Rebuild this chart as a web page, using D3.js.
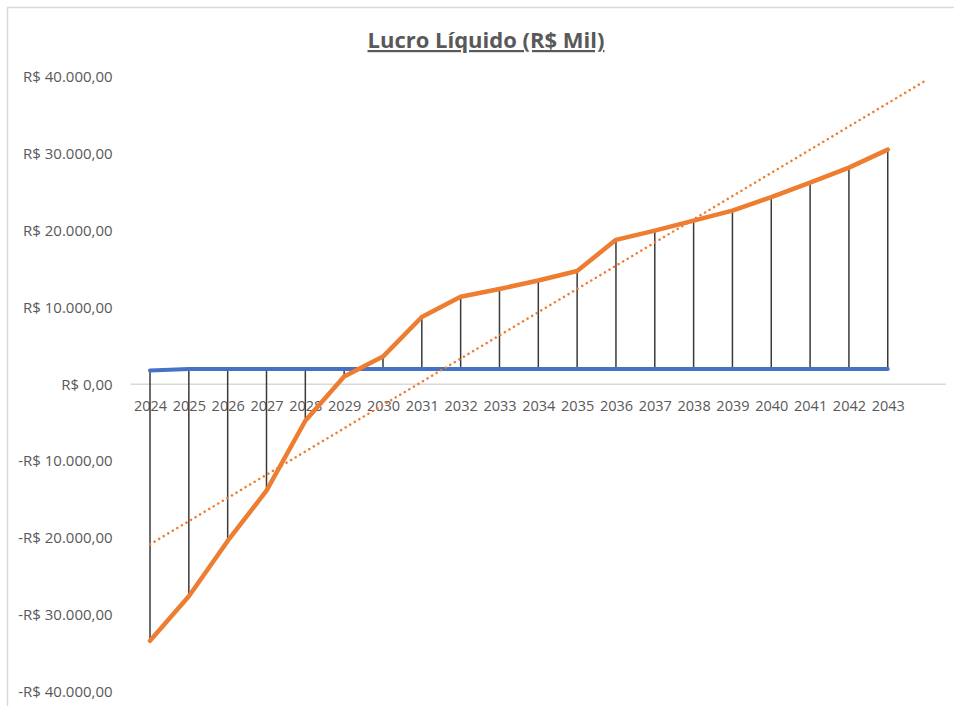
<!DOCTYPE html>
<html>
<head>
<meta charset="utf-8">
<script src="https://cdn.jsdelivr.net/npm/d3@7"></script>
<style>
  body { margin: 0; background: #fff; }
  svg { display: block; }
</style>
</head>
<body>
<div id="chart"></div>
<script>
// Lucro líquido por ano (R$ mil)
const years = ["2024","2025","2026","2027","2028","2029","2030","2031","2032","2033",
               "2034","2035","2036","2037","2038","2039","2040","2041","2042","2043"];
const lucro = [-33400,-27600,-20400,-13850,-4750,1000,3600,8750,11400,12400,
               13500,14750,18800,20000,21300,22600,24350,26250,28200,30550];
const base = [1800,2000,2000,2000,2000,2000,2000,2000,2000,2000,
              2000,2000,2000,2000,2000,2000,2000,2000,2000,2000];
const yTicks = [-40000,-30000,-20000,-10000,0,10000,20000,30000,40000];

const width = 954, height = 706;
const plotLeft = 130.6, plotRight = 946;
const yTop = 77, yBottom = 691.5;

const svg = d3.create("svg")
  .attr("width", width)
  .attr("height", height)
  .attr("viewBox", [0, 0, width, height]);

// chart border (runs off the right and bottom)
svg.append("rect")
  .attr("x", 7.5).attr("y", 7.5)
  .attr("width", 1000).attr("height", 1000)
  .attr("fill", "none")
  .attr("stroke", "#d9d9d9")
  .attr("stroke-width", 1.5);

// one extra slot at the end for the forward trendline period
const slots = years.concat([""]);
const x = d3.scalePoint(slots, [plotLeft, plotRight]).padding(0.5);
const y = d3.scaleLinear([-40000, 40000], [yBottom, yTop]);

const locale = d3.formatLocale({
  decimal: ",", thousands: ".", grouping: [3], currency: ["R$ ", ""], minus: "-"
});
const fmt = locale.format("$,.2f");

// title
svg.append("text")
  .attr("x", 486)
  .attr("y", 48)
  .attr("text-anchor", "middle")
  .attr("font-family", "'Open Sans', sans-serif")
  .attr("font-size", 22)
  .attr("font-weight", "bold")
  .attr("fill", "#595959")
  .attr("text-decoration", "underline")
  .text("Lucro Líquido (R$ Mil)");

// y axis labels
const yAxis = svg.append("g")
  .attr("transform", `translate(${plotLeft - 15},0)`)
  .call(d3.axisLeft(y).tickValues(yTicks).tickFormat(fmt).tickSize(0));
yAxis.select(".domain").remove();
yAxis.selectAll("text")
  .attr("font-family", "'Open Sans', sans-serif")
  .attr("font-size", 15)
  .attr("fill", "#595959");

// zero line
svg.append("line")
  .attr("x1", plotLeft).attr("x2", plotRight)
  .attr("y1", y(0)).attr("y2", y(0))
  .attr("stroke", "#d9d9d9")
  .attr("stroke-width", 1.5);

// x axis labels
const xAxis = svg.append("g")
  .attr("transform", `translate(0,${y(0)})`)
  .call(d3.axisBottom(x).tickValues(years).tickSize(0).tickPadding(16));
xAxis.select(".domain").remove();
xAxis.selectAll("text")
  .attr("font-family", "'Open Sans', sans-serif")
  .attr("font-size", 14.5)
  .attr("fill", "#595959");

// high-low lines
svg.append("g")
  .selectAll("line")
  .data(years)
  .join("line")
    .attr("x1", d => x(d)).attr("x2", d => x(d))
    .attr("y1", (d, i) => y(base[i]))
    .attr("y2", (d, i) => y(lucro[i]))
    .attr("stroke", "#3a3a3a")
    .attr("stroke-width", 1.5);

// base line (blue)
const line = d3.line().x(d => x(d[0])).y(d => y(d[1]));
svg.append("path")
  .datum(years.map((d, i) => [d, base[i]]))
  .attr("d", line)
  .attr("fill", "none")
  .attr("stroke", "#4472c4")
  .attr("stroke-width", 4)
  .attr("stroke-linecap", "round");

// linear trendline of lucro, one period forward
const n = lucro.length;
const mx = d3.mean(lucro, (d, i) => i);
const my = d3.mean(lucro);
const slope = d3.sum(lucro, (d, i) => (i - mx) * (d - my)) / d3.sum(lucro, (d, i) => (i - mx) * (i - mx));
const intercept = my - slope * mx;
svg.append("line")
  .attr("x1", x(slots[0])).attr("y1", y(intercept))
  .attr("x2", x(slots[n])).attr("y2", y(intercept + slope * n))
  .attr("stroke", "#ed7d31")
  .attr("stroke-width", 2.5)
  .attr("stroke-linecap", "round")
  .attr("stroke-dasharray", "0.1 5.2");

// lucro line (orange)
svg.append("path")
  .datum(years.map((d, i) => [d, lucro[i]]))
  .attr("d", line)
  .attr("fill", "none")
  .attr("stroke", "#ed7d31")
  .attr("stroke-width", 4.5)
  .attr("stroke-linejoin", "round")
  .attr("stroke-linecap", "round");

document.getElementById("chart").append(svg.node());
</script>
</body>
</html>
